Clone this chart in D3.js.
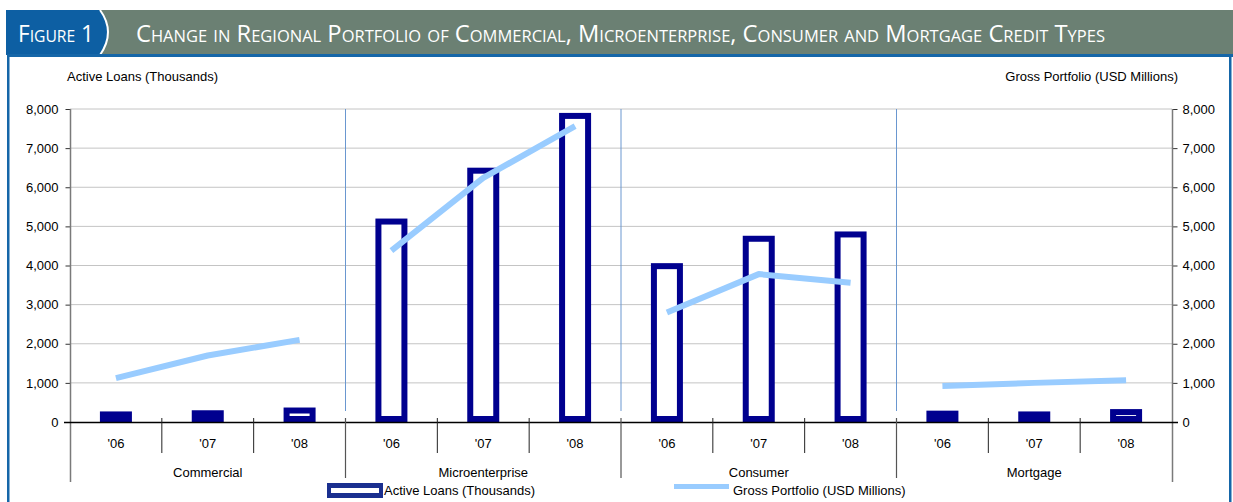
<!DOCTYPE html>
<html>
<head>
<meta charset="utf-8">
<script src="https://cdn.jsdelivr.net/npm/d3@7"></script>
<style>
  html, body { margin: 0; padding: 0; background: #fff; }
  svg { display: block; }
  text { font-family: "Liberation Sans", Arial, sans-serif; }
</style>
</head>
<body>
<svg id="chart" width="1233" height="502"></svg>
<script>
// Credit types and years shown along the category axis
const creditTypes = ["Commercial", "Microenterprise", "Consumer", "Mortgage"];
const years = ["'06", "'07", "'08"];

// Active loans (thousands), in credit type / year order
const activeLoans = [270, 300, 370, 5200, 6500, 7900, 4060, 4760, 4870, 290, 270, 330];
// Gross portfolio (USD millions), same order
const grossPortfolio = [1120, 1700, 2100, 4380, 6240, 7560, 2800, 3780, 3560, 920, 1000, 1070];

const yTicks = [0, 1000, 2000, 3000, 4000, 5000, 6000, 7000, 8000];

const figureLabel = "Figure 1";
const titleText = "Change in Regional Portfolio of Commercial, Microenterprise, Consumer and Mortgage Credit Types";
const leftAxisTitle = "Active Loans (Thousands)";
const rightAxisTitle = "Gross Portfolio (USD Millions)";

const svg = d3.select("#chart");
const W = 1233, H = 502;
const fs = "13px";

const navy = "#00008f";
const lightBlue = "#99ccff";
const frameBlue = "#1566a8";

// ---- header band ----
svg.append("rect").attr("x", 6).attr("y", 10).attr("width", W - 6).attr("height", 45).attr("fill", "#6b8073");
svg.append("path")
  .attr("d", "M6,10 L100,10 Q116,32 100,55 L6,55 Z")
  .attr("fill", "#0d5fa3");
svg.append("path")
  .attr("d", "M100,10 Q116,32 100,55")
  .attr("fill", "none").attr("stroke", "#fff").attr("stroke-width", 2);

svg.append("text")
  .attr("x", 18).attr("y", 42)
  .attr("fill", "#fff")
  .style("font-family", "'Open Sans', sans-serif")
  .style("font-variant", "small-caps")
  .style("font-size", "23px")
  .attr("textLength", 76).attr("lengthAdjust", "spacingAndGlyphs")
  .text(figureLabel);

svg.append("text")
  .attr("x", 136).attr("y", 42)
  .attr("fill", "#fff")
  .style("font-family", "'Open Sans', sans-serif")
  .style("font-variant", "small-caps")
  .style("font-size", "23px")
  .attr("textLength", 969).attr("lengthAdjust", "spacingAndGlyphs")
  .text(titleText);

// frame below the header
svg.append("rect").attr("x", 7).attr("y", 54).attr("width", W - 7).attr("height", 3).attr("fill", frameBlue);
svg.append("rect").attr("x", 7).attr("y", 54).attr("width", 2.5).attr("height", H - 54).attr("fill", frameBlue);
svg.append("rect").attr("x", 1229).attr("y", 54).attr("width", 2.5).attr("height", H - 54).attr("fill", frameBlue);

// ---- scales ----
const slots = d3.range(activeLoans.length);
const x = d3.scaleBand().domain(slots).range([70, 1172]).padding(0);
const y = d3.scaleLinear().domain([0, 8000]).range([422, 109]);
const cx = i => x(i) + x.bandwidth() / 2;

// gridlines
svg.append("g").selectAll("line")
  .data(yTicks.filter(d => d > 0))
  .join("line")
  .attr("x1", 70).attr("x2", 1172)
  .attr("y1", d => y(d)).attr("y2", d => y(d))
  .attr("stroke", "#c4c4c4").attr("stroke-width", 1);

// group separators inside the plot
svg.append("g").selectAll("line")
  .data([3, 6, 9])
  .join("line")
  .attr("x1", d => x(d)).attr("x2", d => x(d))
  .attr("y1", y(8000)).attr("y2", 411)
  .attr("stroke", "#6a97d0").attr("stroke-width", 1);

// left axis
const leftAxis = d3.axisLeft(y).tickValues(yTicks).tickFormat(d3.format(",")).tickSize(5).tickPadding(7);
const gl = svg.append("g").attr("transform", "translate(70.5,0)").call(leftAxis);
gl.select(".domain").remove();
gl.selectAll(".tick line").attr("stroke", "#333");
gl.selectAll(".tick text").style("font-size", fs).attr("fill", "#000")
  .style("font-family", "'Liberation Sans', Arial, sans-serif");

// right axis
const rightAxis = d3.axisRight(y).tickValues(yTicks).tickFormat(d3.format(",")).tickSize(5).tickPadding(5);
const gr = svg.append("g").attr("transform", "translate(1172.5,0)").call(rightAxis);
gr.select(".domain").remove();
gr.selectAll(".tick line").attr("stroke", "#333");
gr.selectAll(".tick text").style("font-size", fs).attr("fill", "#000")
  .style("font-family", "'Liberation Sans', Arial, sans-serif");

// vertical axis lines extending through the category labels
svg.append("line").attr("x1", 70.5).attr("x2", 70.5).attr("y1", y(8000)).attr("y2", 482)
  .attr("stroke", "#7a7a7a").attr("stroke-width", 1.5);
svg.append("line").attr("x1", 1172.5).attr("x2", 1172.5).attr("y1", y(8000)).attr("y2", 482)
  .attr("stroke", "#7a7a7a").attr("stroke-width", 1.5);

// axis titles
svg.append("text").attr("x", 67).attr("y", 81).style("font-size", fs).text(leftAxisTitle);
svg.append("text").attr("x", 1178).attr("y", 81).attr("text-anchor", "end").style("font-size", fs).text(rightAxisTitle);

// ---- active loans bars (outlined) ----
const barW = 32, border = 6;
const bars = svg.append("g");
slots.forEach(i => {
  const v = activeLoans[i];
  const top = y(v), bottom = y(0), h = bottom - top;
  const bx = cx(i) - barW / 2;
  bars.append("rect").attr("x", bx).attr("y", top).attr("width", barW).attr("height", h).attr("fill", navy);
  if (h > 2 * border) {
    bars.append("rect")
      .attr("x", bx + border).attr("y", top + border)
      .attr("width", barW - 2 * border).attr("height", h - 2 * border)
      .attr("fill", "#fff");
  }
});

// ---- gross portfolio lines, one per credit type ----
const line = d3.line().x(i => cx(i)).y(i => y(grossPortfolio[i]));
svg.append("g").selectAll("path")
  .data(creditTypes.map((c, g) => d3.range(g * 3, g * 3 + 3)))
  .join("path")
  .attr("d", line)
  .attr("fill", "none")
  .attr("stroke", lightBlue)
  .attr("stroke-width", 6)
  .attr("stroke-linecap", "butt")
  .attr("stroke-linejoin", "round");

// zero baseline
svg.append("line").attr("x1", 64).attr("x2", 1178).attr("y1", y(0) + 0.5).attr("y2", y(0) + 0.5)
  .attr("stroke", "#000").attr("stroke-width", 1.5);

// ---- category axis ----
const cat = svg.append("g");
// year separators
d3.range(1, 12).filter(i => i % 3 !== 0).forEach(i => {
  cat.append("line").attr("x1", x(i)).attr("x2", x(i)).attr("y1", 418).attr("y2", 453)
    .attr("stroke", "#222").attr("stroke-width", 1);
});
// group separators
[3, 6, 9].forEach(i => {
  cat.append("line").attr("x1", x(i)).attr("x2", x(i)).attr("y1", 418).attr("y2", 478)
    .attr("stroke", "#555").attr("stroke-width", 1.2);
});
// year labels
cat.selectAll("text.year")
  .data(slots)
  .join("text")
  .attr("class", "year")
  .attr("x", i => cx(i)).attr("y", 448)
  .attr("text-anchor", "middle")
  .style("font-size", fs)
  .text(i => years[i % 3]);
// credit type labels
cat.selectAll("text.group")
  .data(creditTypes)
  .join("text")
  .attr("class", "group")
  .attr("x", (d, g) => (x(g * 3) + x(g * 3 + 2) + x.bandwidth()) / 2)
  .attr("y", 477)
  .attr("text-anchor", "middle")
  .style("font-size", fs)
  .text(d => d);

// ---- legend ----
const lg = svg.append("g");
lg.append("rect").attr("x", 327).attr("y", 483).attr("width", 56).attr("height", 15).attr("fill", "#1a2f8f");
lg.append("rect").attr("x", 331).attr("y", 488).attr("width", 48).attr("height", 5).attr("fill", "#fff");
lg.append("text").attr("x", 384).attr("y", 495).style("font-size", fs).text(leftAxisTitle);
lg.append("line").attr("x1", 674).attr("x2", 729).attr("y1", 486.5).attr("y2", 486.5)
  .attr("stroke", lightBlue).attr("stroke-width", 5);
lg.append("text").attr("x", 733).attr("y", 495).style("font-size", fs).text(rightAxisTitle);
</script>
</body>
</html>
